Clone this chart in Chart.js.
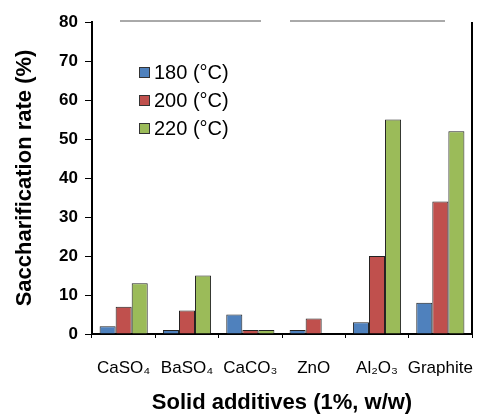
<!DOCTYPE html>
<html>
<head>
<meta charset="utf-8">
<script src="https://cdn.jsdelivr.net/npm/chart.js@4.4.0/dist/chart.umd.min.js"></script>
<style>
  html, body { margin: 0; padding: 0; background: #fff; }
  #wrap { width: 499px; height: 420px; }
</style>
</head>
<body>
<div id="wrap"><canvas id="chart"></canvas></div>
<script>
const categories = ["CaSO\u2084", "BaSO\u2084", "CaCO\u2083", "ZnO", "Al\u2082O\u2083", "Graphite"];
const temps = ["180 (\u00b0C)", "200 (\u00b0C)", "220 (\u00b0C)"];
const rate180 = [2, 1, 5, 1, 3, 8];
const rate200 = [7, 6, 1, 4, 20, 34];
const rate220 = [13, 15, 1, 0, 55, 52];
const yTicks = [0, 10, 20, 30, 40, 50, 60, 70, 80];
const colors = ["#4f81bd", "#c0504d", "#9bbb59"];

// legend drawn inside the plot area + framing lines
const framePlugin = {
    id: "frame",
    afterDraw(chart) {
        const ctx = chart.ctx;
        const a = chart.chartArea;
        ctx.save();
        // right border
        ctx.strokeStyle = "#000";
        ctx.lineWidth = 2;
        ctx.beginPath();
        ctx.moveTo(a.right, a.top);
        ctx.lineTo(a.right, a.bottom);
        ctx.stroke();
        // faint broken top line
        ctx.strokeStyle = "#555";
        ctx.lineWidth = 1;
        ctx.beginPath();
        ctx.moveTo(a.left + 28, a.top - 1);
        ctx.lineTo(a.left + 169, a.top - 1);
        ctx.moveTo(a.left + 198, a.top - 1);
        ctx.lineTo(a.left + 353, a.top - 1);
        ctx.stroke();
        // legend
        ctx.font = "20px 'Liberation Sans', Arial, sans-serif";
        ctx.textBaseline = "middle";
        chart.data.datasets.forEach(function (ds, i) {
            const y = a.top + 50 + i * 28;
            const x = a.left + 47;
            ctx.fillStyle = ds.backgroundColor;
            ctx.fillRect(x, y - 5, 11, 11);
            ctx.strokeStyle = "#333";
            ctx.lineWidth = 1;
            ctx.strokeRect(x + 0.5, y - 4.5, 10, 10);
            ctx.fillStyle = "#000";
            ctx.fillText(ds.label, x + 15, y + 1);
        });
        ctx.restore();
    }
};

const chartEl = document.getElementById("chart");

new Chart(chartEl, {
    type: "bar",
    data: {
        labels: categories,
        datasets: [
            { label: temps[0], data: rate180, backgroundColor: colors[0] },
            { label: temps[1], data: rate200, backgroundColor: colors[1] },
            { label: temps[2], data: rate220, backgroundColor: colors[2] },
        ],
    },
    options: {
        responsive: true,
        maintainAspectRatio: false,
        animation: false,
        layout: { padding: { top: 22, right: 27, bottom: 4, left: 8 } },
        datasets: {
            bar: {
                categoryPercentage: 0.76,
                barPercentage: 1.0,
                borderColor: "#222",
                borderWidth: 1,
            },
        },
        plugins: {
            legend: { display: false },
            tooltip: { enabled: false },
        },
        scales: {
            x: {
                grid: {
                    display: true,
                    drawOnChartArea: false,
                    offset: true,
                    tickLength: 4,
                    color: "#000",
                    lineWidth: 1,
                },
                border: { display: true, color: "#000", width: 2 },
                ticks: {
                    color: "#000",
                    font: { family: "'Liberation Sans', Arial, sans-serif", size: 17 },
                    padding: 20,
                    maxRotation: 0,
                    autoSkip: false,
                },
                title: {
                    display: true,
                    text: "Solid additives (1%, w/w)",
                    color: "#000",
                    font: { family: "'Liberation Sans', Arial, sans-serif", size: 22, weight: "bold" },
                    padding: { top: 10, bottom: 0 },
                },
                afterFit(scale) { scale.height = 82; },
            },
            y: {
                min: 0,
                max: 80,
                afterBuildTicks(scale) {
                    scale.ticks = yTicks.map(function (v) { return { value: v }; });
                },
                grid: {
                    display: true,
                    drawOnChartArea: false,
                    tickLength: 7,
                    color: "#000",
                    lineWidth: 1,
                },
                border: { display: true, color: "#000", width: 2 },
                ticks: {
                    color: "#000",
                    font: { family: "'Liberation Sans', Arial, sans-serif", size: 17, weight: "bold" },
                    padding: 7,
                },
                title: {
                    display: true,
                    text: "Saccharification rate (%)",
                    color: "#000",
                    font: { family: "'Liberation Sans', Arial, sans-serif", size: 22, weight: "bold" },
                    padding: { top: 4, bottom: 0 },
                },
                afterFit(scale) { scale.width = 84; },
            },
        },
    },
    plugins: [framePlugin],
});
</script>
</body>
</html>
